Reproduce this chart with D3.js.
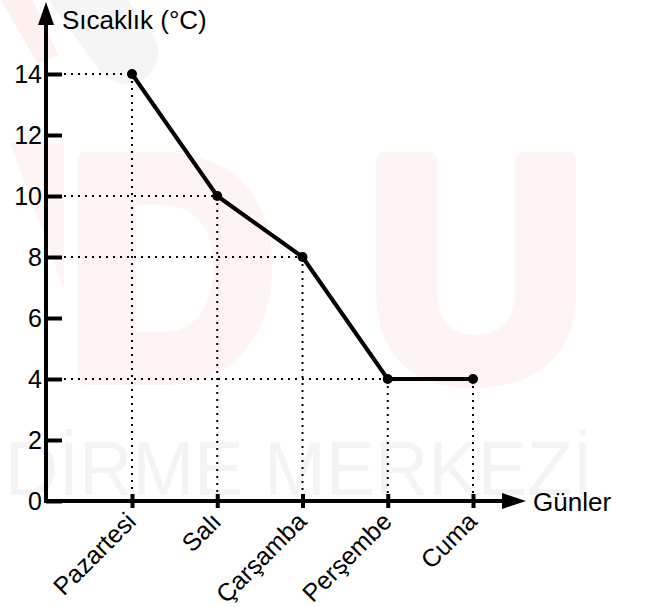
<!DOCTYPE html>
<html>
<head>
<meta charset="utf-8">
<script src="https://cdn.jsdelivr.net/npm/d3@7"></script>
<style>
  body { margin: 0; background: #fff; }
  svg { display: block; font-family: "Liberation Sans", Arial, sans-serif; }
</style>
</head>
<body>
<svg id="chart"></svg>
<script>
// chart data
const days = ["Pazartesi", "Salı", "Çarşamba", "Perşembe", "Cuma"];
const temps = [14, 10, 8, 4, 4];
const yTicks = [0, 2, 4, 6, 8, 10, 12, 14];

const width = 646;
const height = 607;

// axis positions
const originX = 46;
const originY = 501;

const svg = d3.select("#chart")
    .attr("width", width)
    .attr("height", height);

// faint watermark in the background
let wm = svg.append("g");
wm.append("line")
    .attr("x1", 70).attr("y1", -25).attr("x2", 126).attr("y2", 52)
    .attr("stroke", "#f5f5f5").attr("stroke-width", 64).attr("stroke-linecap", "round");
wm.append("path")
    .attr("d", "M-5,-10 L28,-10 L58,55 L38,64 Z")
    .attr("fill", "#fef0ef");
wm.append("path")
    .attr("d", "M10,143 L64,143 L64,290 Z")
    .attr("fill", "#fef4f3");
wm.append("text")
    .attr("x", 66).attr("y", 376)
    .attr("fill", "#fef4f3")
    .attr("stroke", "#fef4f3")
    .attr("stroke-width", 18)
    .attr("stroke-linejoin", "round")
    .style("font-size", "313px")
    .style("font-weight", "bold")
    .attr("textLength", 210)
    .attr("lengthAdjust", "spacingAndGlyphs")
    .text("D");
wm.append("text")
    .attr("x", 367).attr("y", 376)
    .attr("fill", "#fef4f3")
    .attr("stroke", "#fef4f3")
    .attr("stroke-width", 18)
    .attr("stroke-linejoin", "round")
    .style("font-size", "313px")
    .style("font-weight", "bold")
    .attr("textLength", 219)
    .attr("lengthAdjust", "spacingAndGlyphs")
    .text("U");
wm.append("text")
    .attr("x", 5).attr("y", 495)
    .attr("fill", "#f4f4f4")
    .style("font-size", "76px")
    .attr("textLength", 588)
    .attr("lengthAdjust", "spacingAndGlyphs")
    .text("DİRME MERKEZİ");

let xScale = d3.scalePoint().domain(days).range([132, 473]);
let yScale = d3.scaleLinear().domain([0, 14]).range([originY, 74]);

let data = days.map((d, i) => ({day: d, temp: temps[i]}));

// dotted guide lines
let guides = svg.append("g")
    .attr("stroke", "#000")
    .attr("stroke-width", 2)
    .attr("stroke-dasharray", "2,5");
guides.selectAll("line.h")
    .data(data)
    .join("line")
    .attr("class", "h")
    .attr("x1", originX + 4)
    .attr("x2", d => xScale(d.day))
    .attr("y1", d => yScale(d.temp))
    .attr("y2", d => yScale(d.temp));
guides.selectAll("line.v")
    .data(data)
    .join("line")
    .attr("class", "v")
    .attr("x1", d => xScale(d.day))
    .attr("x2", d => xScale(d.day))
    .attr("y1", d => yScale(d.temp))
    .attr("y2", originY - 4);

// y axis
let yAxis = d3.axisLeft(yScale).tickValues(yTicks).tickSize(0).tickPadding(4);
let yg = svg.append("g").attr("transform", `translate(${originX},0)`).call(yAxis);
yg.select(".domain").remove();
yg.selectAll(".tick line").attr("x1", 0).attr("x2", 16).attr("stroke", "#000").attr("stroke-width", 4);
yg.selectAll(".tick text")
    .style("font-size", "25px")
    .attr("fill", "#000")
    .attr("font-family", null);

// x axis
let xAxis = d3.axisBottom(xScale).tickSize(0);
let xg = svg.append("g").attr("transform", `translate(0,${originY})`).call(xAxis);
xg.select(".domain").remove();
xg.selectAll(".tick line").attr("y1", -7).attr("y2", 7).attr("stroke", "#000").attr("stroke-width", 4);
xg.selectAll(".tick text")
    .style("font-size", "25px")
    .attr("fill", "#000")
    .attr("font-family", null)
    .attr("text-anchor", "end")
    .attr("dy", null)
    .attr("y", 0)
    .attr("transform", "translate(5,22) rotate(-45)");

// axis lines with arrow heads
svg.append("line")
    .attr("x1", originX).attr("x2", originX)
    .attr("y1", originY + 2).attr("y2", 22)
    .attr("stroke", "#000").attr("stroke-width", 4);
svg.append("path")
    .attr("d", `M${originX - 8},25 L${originX},2 L${originX + 8},25 Z`)
    .attr("fill", "#000");
svg.append("line")
    .attr("x1", originX - 2).attr("x2", 505)
    .attr("y1", originY).attr("y2", originY)
    .attr("stroke", "#000").attr("stroke-width", 4);
svg.append("path")
    .attr("d", `M502,${originY - 8} L526,${originY} L502,${originY + 8} Z`)
    .attr("fill", "#000");

// axis titles
svg.append("text")
    .attr("x", 62).attr("y", 29)
    .style("font-size", "26px")
    .text("Sıcaklık (°C)");
svg.append("text")
    .attr("x", 533).attr("y", 511)
    .style("font-size", "26px")
    .text("Günler");

// temperature line
let line = d3.line()
    .x(d => xScale(d.day))
    .y(d => yScale(d.temp));
svg.append("path")
    .datum(data)
    .attr("fill", "none")
    .attr("stroke", "#000")
    .attr("stroke-width", 4)
    .attr("stroke-linejoin", "round")
    .attr("d", line);
svg.selectAll("circle")
    .data(data)
    .join("circle")
    .attr("cx", d => xScale(d.day))
    .attr("cy", d => yScale(d.temp))
    .attr("r", 5)
    .attr("fill", "#000");
</script>
</body>
</html>
